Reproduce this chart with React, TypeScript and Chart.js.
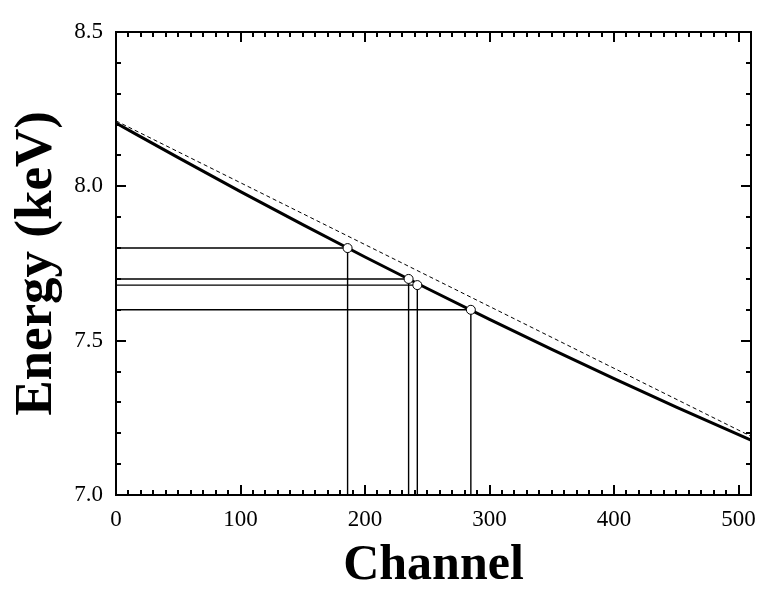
import { useEffect, useRef } from 'react';
import { Chart, registerables } from 'chart.js';
Chart.register(...registerables);

// Calibration curve (solid)
const fitChannels = [0, 50, 100, 150, 200, 250, 300, 350, 400, 450, 510];
const fitEnergies = [8.205, 8.093, 7.983, 7.876, 7.771, 7.669, 7.569, 7.472, 7.377, 7.285, 7.178];
// Linear reference (dashed)
const linChannels = [0, 510];
const linEnergies = [8.212, 7.19];
// Calibration points
const pointChannels = [186, 235, 242, 285];
const pointEnergies = [7.8, 7.7, 7.68, 7.6];
// Axis ticks
const xTickValues = [0, 100, 200, 300, 400, 500];
const yTickValues = [7.0, 7.5, 8.0, 8.5];
const xMinorStep = 10;
const yMinorStep = 0.1;
const X_MIN = 0, X_MAX = 510, Y_MIN = 7.0, Y_MAX = 8.5;

const FONT = '"Liberation Serif", "Times New Roman", serif';

export default function App() {
  const ref = useRef<HTMLCanvasElement>(null);
  useEffect(() => {
    if (!ref.current) return;

    const framePlugin = {
      id: 'frameTicks',
      afterDraw(chart: any) {
        const { ctx, chartArea: a, scales } = chart;
        const xs = scales.x, ys = scales.y;
        ctx.save();
        ctx.strokeStyle = '#000';
        ctx.lineWidth = 2;
        ctx.beginPath();
        const nx = Math.round((X_MAX - X_MIN) / xMinorStep);
        for (let i = 0; i <= nx; i++) {
          const v = X_MIN + i * xMinorStep;
          const px = Math.round(xs.getPixelForValue(v));
          const major = xTickValues.some((t) => Math.abs(t - v) < 1e-6);
          const len = major ? 10 : 5;
          ctx.moveTo(px, a.bottom);
          ctx.lineTo(px, a.bottom - len);
          ctx.moveTo(px, a.top);
          ctx.lineTo(px, a.top + len);
        }
        const ny = Math.round((Y_MAX - Y_MIN) / yMinorStep);
        for (let i = 0; i <= ny; i++) {
          const v = Y_MIN + i * yMinorStep;
          const py = Math.round(ys.getPixelForValue(v));
          const major = yTickValues.some((t) => Math.abs(t - v) < 1e-6);
          const len = major ? 10 : 5;
          ctx.moveTo(a.left, py);
          ctx.lineTo(a.left + len, py);
          ctx.moveTo(a.right, py);
          ctx.lineTo(a.right - len, py);
        }
        ctx.stroke();
        ctx.strokeRect(a.left, a.top, a.right - a.left, a.bottom - a.top);
        ctx.restore();
      },
    };

    const dropSets = pointChannels.map((c, i) => ({
      type: 'line' as const,
      data: [
        { x: X_MIN, y: pointEnergies[i] },
        { x: c, y: pointEnergies[i] },
        { x: c, y: Y_MIN },
      ],
      borderColor: '#000',
      borderWidth: 1.4,
      pointRadius: 0,
      tension: 0,
      order: 5,
    }));

    const chart = new Chart(ref.current, {
      type: 'line',
      data: {
        datasets: [
          {
            data: pointChannels.map((c, i) => ({ x: c, y: pointEnergies[i] })),
            showLine: false,
            pointRadius: 4.5,
            pointBackgroundColor: '#fff',
            pointBorderColor: '#000',
            pointBorderWidth: 1,
            order: 0,
          },
          {
            data: fitChannels.map((c, i) => ({ x: c, y: fitEnergies[i] })),
            borderColor: '#000',
            borderWidth: 3,
            pointRadius: 0,
            cubicInterpolationMode: 'monotone',
            order: 1,
          },
          {
            data: linChannels.map((c, i) => ({ x: c, y: linEnergies[i] })),
            borderColor: '#000',
            borderWidth: 1,
            borderDash: [4, 3],
            pointRadius: 0,
            order: 2,
          },
          ...dropSets,
        ] as any,
      },
      options: {
        animation: false,
        responsive: true,
        maintainAspectRatio: false,
        layout: { padding: { top: 32, right: 21, left: 0, bottom: 0 } },
        plugins: { legend: { display: false }, tooltip: { enabled: false } },
        scales: {
          x: {
            type: 'linear',
            min: X_MIN,
            max: X_MAX,
            grid: { display: false, drawTicks: false },
            border: { display: false },
            afterBuildTicks: (s: any) => {
              s.ticks = xTickValues.map((v) => ({ value: v }));
            },
            afterFit: (s: any) => {
              s.height = 101;
            },
            ticks: {
              autoSkip: false,
              maxRotation: 0,
              padding: 11,
              color: '#000',
              font: { family: FONT, size: 23 },
              callback: (v: any) => String(v),
            },
            title: {
              display: true,
              text: 'Channel',
              color: '#000',
              font: { family: FONT, size: 50, weight: 'bold' },
              padding: { top: 0, bottom: 0 },
            },
          },
          y: {
            type: 'linear',
            min: Y_MIN,
            max: Y_MAX,
            grid: { display: false, drawTicks: false },
            border: { display: false },
            afterBuildTicks: (s: any) => {
              s.ticks = yTickValues.map((v) => ({ value: v }));
            },
            afterFit: (s: any) => {
              s.width = 116;
            },
            ticks: {
              autoSkip: false,
              padding: 13,
              color: '#000',
              font: { family: FONT, size: 23 },
              callback: (v: any) => Number(v).toFixed(1),
            },
            title: {
              display: true,
              text: 'Energy (keV)',
              color: '#000',
              font: { family: FONT, size: 53, weight: 'bold' },
              padding: { top: 6, bottom: 0 },
            },
          },
        },
      },
      plugins: [framePlugin],
    });
    return () => chart.destroy();
  }, []);

  return (
    <div style={{ position: 'absolute', left: 0, top: 0, width: 772, height: 596, background: '#fff' }}>
      <canvas ref={ref} />
    </div>
  );
}
